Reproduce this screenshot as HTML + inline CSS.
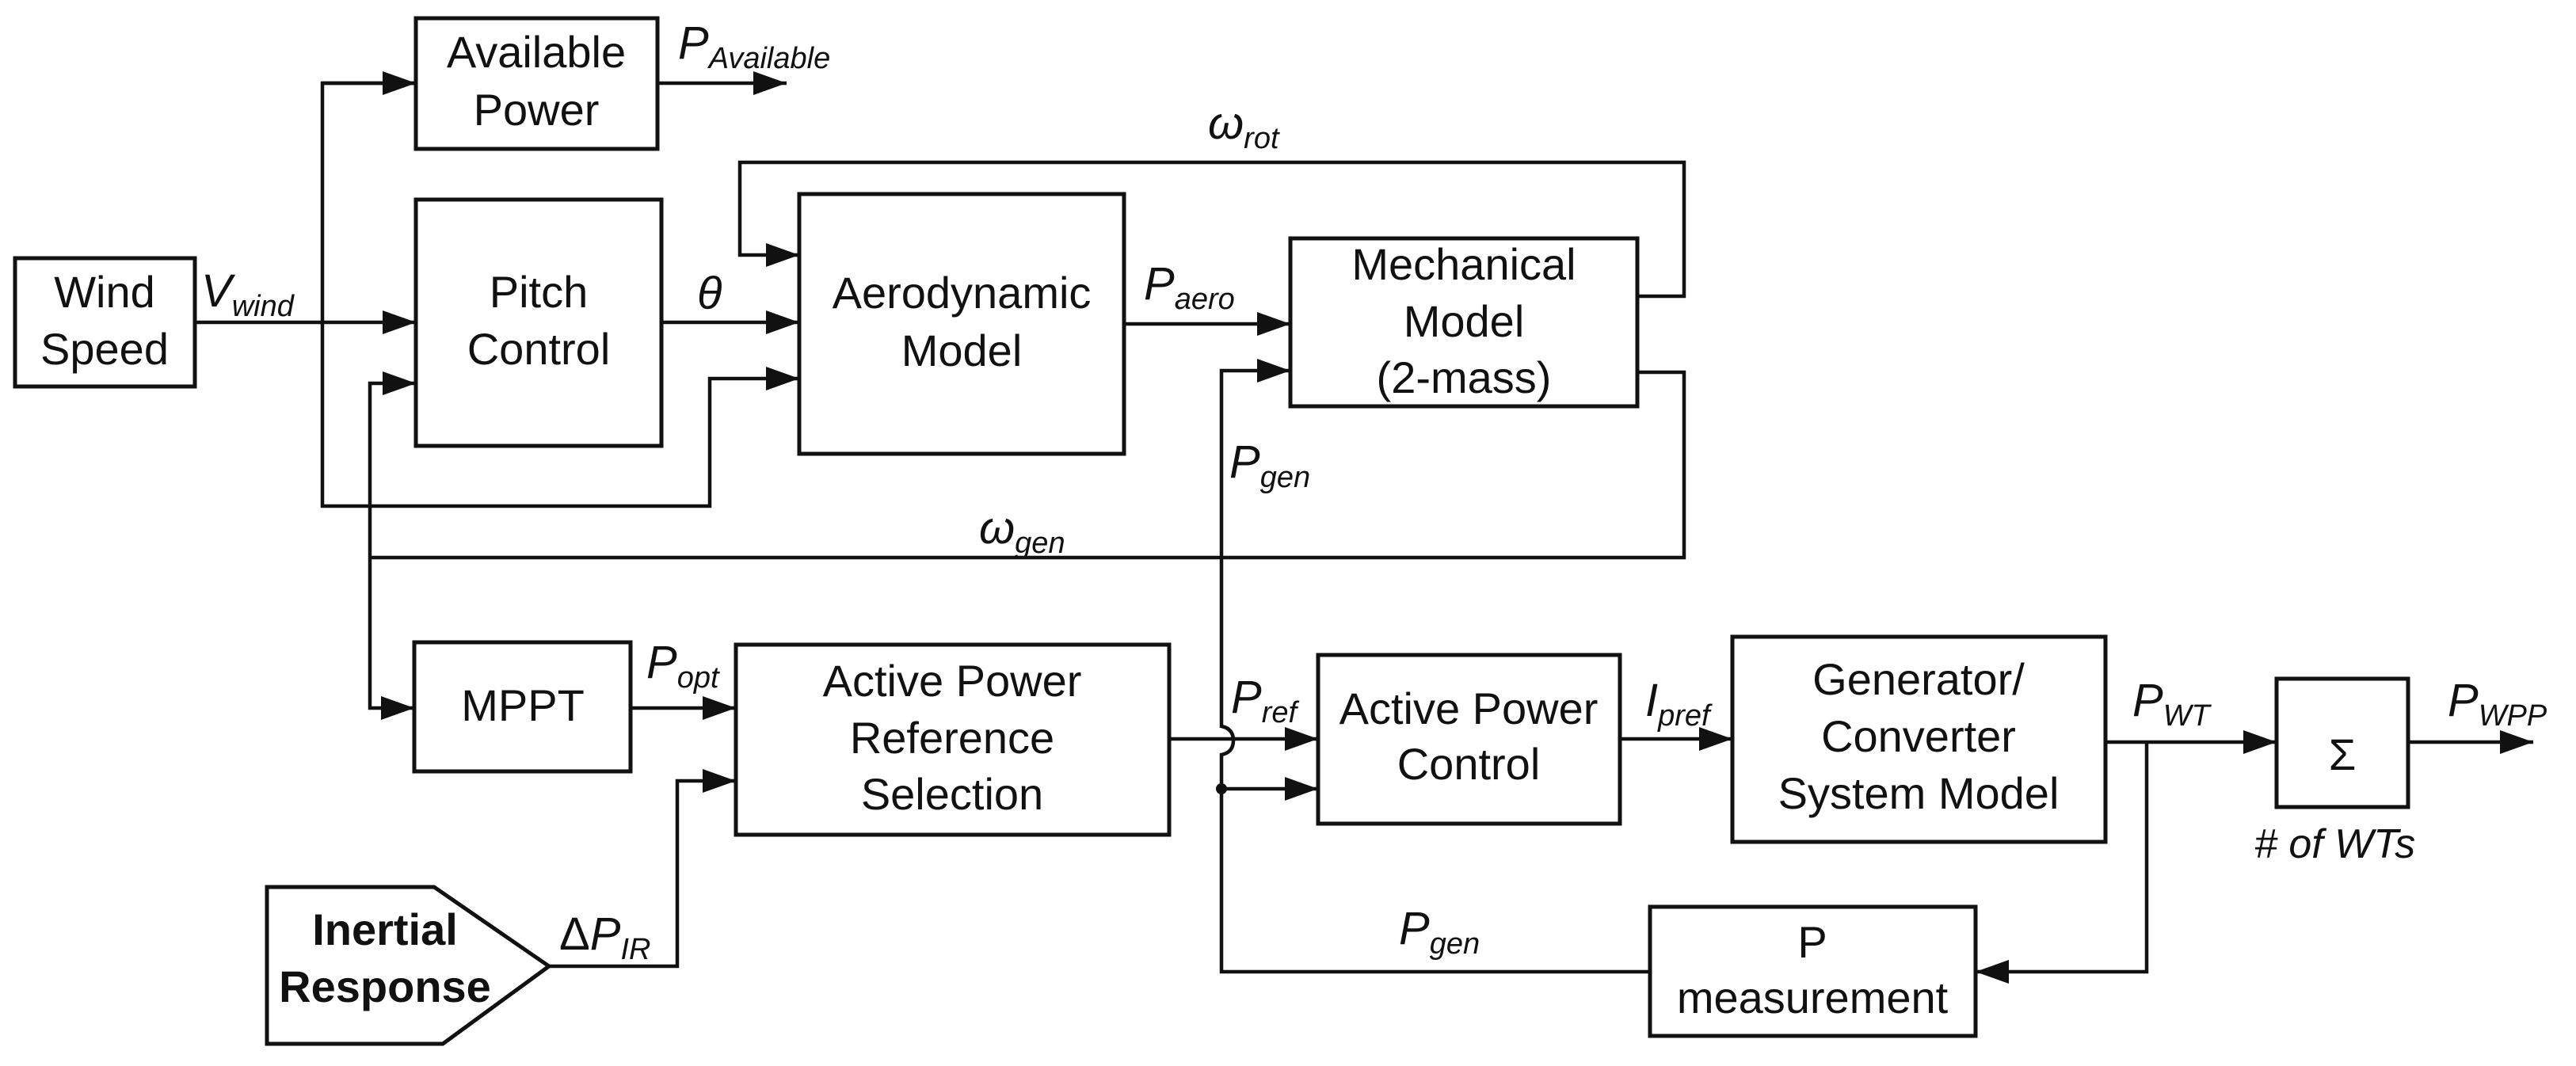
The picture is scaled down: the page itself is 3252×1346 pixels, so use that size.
<!DOCTYPE html>
<html><head><meta charset="utf-8"><style>
html,body{margin:0;padding:0;background:#fff;}
svg{display:block;}
text{font-family:"Liberation Sans",Arial,sans-serif;fill:#111;}
.b{font-size:56px;text-anchor:middle;}
.l{font-size:58px;font-style:italic;}
.s{font-size:38px;font-style:italic;}
</style></head><body>
<svg width="3252" height="1346" viewBox="0 0 3252 1346" xmlns="http://www.w3.org/2000/svg">
<defs>
<marker id="a" markerUnits="userSpaceOnUse" markerWidth="44" markerHeight="32" refX="42" refY="15" orient="auto">
<polygon points="0,0 42,15 0,30" fill="#111"/>
</marker>
</defs>
<g fill="none" stroke="#111" stroke-width="5">
<rect x="19" y="326" width="227" height="162"/>
<rect x="525" y="23" width="305" height="165"/>
<rect x="525" y="252" width="310" height="311"/>
<rect x="1009" y="245" width="410" height="328"/>
<rect x="1629" y="301" width="438" height="212"/>
<rect x="523" y="811" width="273" height="163"/>
<rect x="929" y="814" width="547" height="240"/>
<polygon points="337,1120 548,1120 693,1220 559,1318 337,1318"/>
<rect x="1664" y="827" width="381" height="213"/>
<rect x="2187" y="804" width="471" height="259"/>
<rect x="2874" y="857" width="166" height="162"/>
<rect x="2083" y="1145" width="411" height="163"/>
</g>
<g fill="none" stroke="#111" stroke-width="4.5">
<line x1="246" y1="407" x2="525" y2="407" marker-end="url(#a)"/>
<polyline points="525,105 407,105 407,639 896,639 896,478 1009,478" marker-end="url(#a)"/>
<line x1="407" y1="105" x2="525" y2="105" marker-end="url(#a)"/>
<line x1="830" y1="105" x2="993" y2="105" marker-end="url(#a)"/>
<line x1="835" y1="407" x2="1009" y2="407" marker-end="url(#a)"/>
<polyline points="2067,374 2126,374 2126,205 934,205 934,322 1009,322" marker-end="url(#a)"/>
<line x1="1419" y1="409" x2="1629" y2="409" marker-end="url(#a)"/>
<polyline points="2067,470 2126,470 2126,704 467,704"/>
<polyline points="467,704 467,484 525,484" marker-end="url(#a)"/>
<polyline points="467,704 467,894 523,894" marker-end="url(#a)"/>
<line x1="796" y1="894" x2="929" y2="894" marker-end="url(#a)"/>
<polyline points="693,1220 855,1220 855,986 929,986" marker-end="url(#a)"/>
<line x1="1476" y1="933" x2="1664" y2="933" marker-end="url(#a)"/>
<path d="M2083,1227 L1542,1227 L1542,953 Q1557,950 1557,935 Q1557,920 1542,917 L1542,468 L1629,468" marker-end="url(#a)"/>
<line x1="1542" y1="996" x2="1664" y2="996" marker-end="url(#a)"/>
<line x1="2045" y1="933" x2="2187" y2="933" marker-end="url(#a)"/>
<line x1="2658" y1="937" x2="2874" y2="937" marker-end="url(#a)"/>
<polyline points="2710,937 2710,1227 2494,1227" marker-end="url(#a)"/>
<line x1="3040" y1="937" x2="3198" y2="937" marker-end="url(#a)"/>
</g>
<circle cx="1542" cy="996" r="7" fill="#111"/>
<text class="b" x="132" y="388">Wind</text>
<text class="b" x="132" y="460">Speed</text>
<text class="b" x="677" y="85">Available</text>
<text class="b" x="677" y="158">Power</text>
<text class="b" x="680" y="388">Pitch</text>
<text class="b" x="680" y="460">Control</text>
<text class="b" x="1214" y="389">Aerodynamic</text>
<text class="b" x="1214" y="462">Model</text>
<text class="b" x="1848" y="353">Mechanical</text>
<text class="b" x="1848" y="425">Model</text>
<text class="b" x="1848" y="496">(2-mass)</text>
<text class="b" x="660" y="910">MPPT</text>
<text class="b" x="1202" y="879">Active Power</text>
<text class="b" x="1202" y="951">Reference</text>
<text class="b" x="1202" y="1022">Selection</text>
<text class="b" x="486" y="1193" font-weight="bold">Inertial</text>
<text class="b" x="486" y="1265" font-weight="bold">Response</text>
<text class="b" x="1854" y="914">Active Power</text>
<text class="b" x="1854" y="984">Control</text>
<text class="b" x="2422" y="877">Generator/</text>
<text class="b" x="2422" y="949">Converter</text>
<text class="b" x="2422" y="1021">System Model</text>
<text class="b" x="2957" y="972" font-size="84">Σ</text>
<text class="b" x="2288" y="1209">P</text>
<text class="b" x="2288" y="1279">measurement</text>
<text class="l" x="254" y="387">V<tspan class="s" dy="12">wind</tspan></text>
<text class="l" x="856" y="74">P<tspan class="s" dy="12">Available</tspan></text>
<text class="l" x="880" y="390">θ</text>
<text class="l" x="1525" y="175">ω<tspan class="s" dy="12">rot</tspan></text>
<text class="l" x="1444" y="378">P<tspan class="s" dy="12">aero</tspan></text>
<text class="l" x="1552" y="603">P<tspan class="s" dy="12">gen</tspan></text>
<text class="l" x="1236" y="686">ω<tspan class="s" dy="12">gen</tspan></text>
<text class="l" x="816" y="856">P<tspan class="s" dy="12">opt</tspan></text>
<text x="706" y="1199" style="font-size:58px;">Δ<tspan style="font-style:italic">P</tspan><tspan class="s" dy="12">IR</tspan></text>
<text class="l" x="1554" y="900">P<tspan class="s" dy="12">ref</tspan></text>
<text class="l" x="2077" y="904">I<tspan class="s" dy="12">pref</tspan></text>
<text class="l" x="2692" y="904">P<tspan class="s" dy="12">WT</tspan></text>
<text class="l" x="3090" y="904">P<tspan class="s" dy="12">WPP</tspan></text>
<text class="l" x="2846" y="1083" style="font-size:52px">#&#160;of WTs</text>
<text class="l" x="1766" y="1192">P<tspan class="s" dy="12">gen</tspan></text>
</svg>
</body></html>
